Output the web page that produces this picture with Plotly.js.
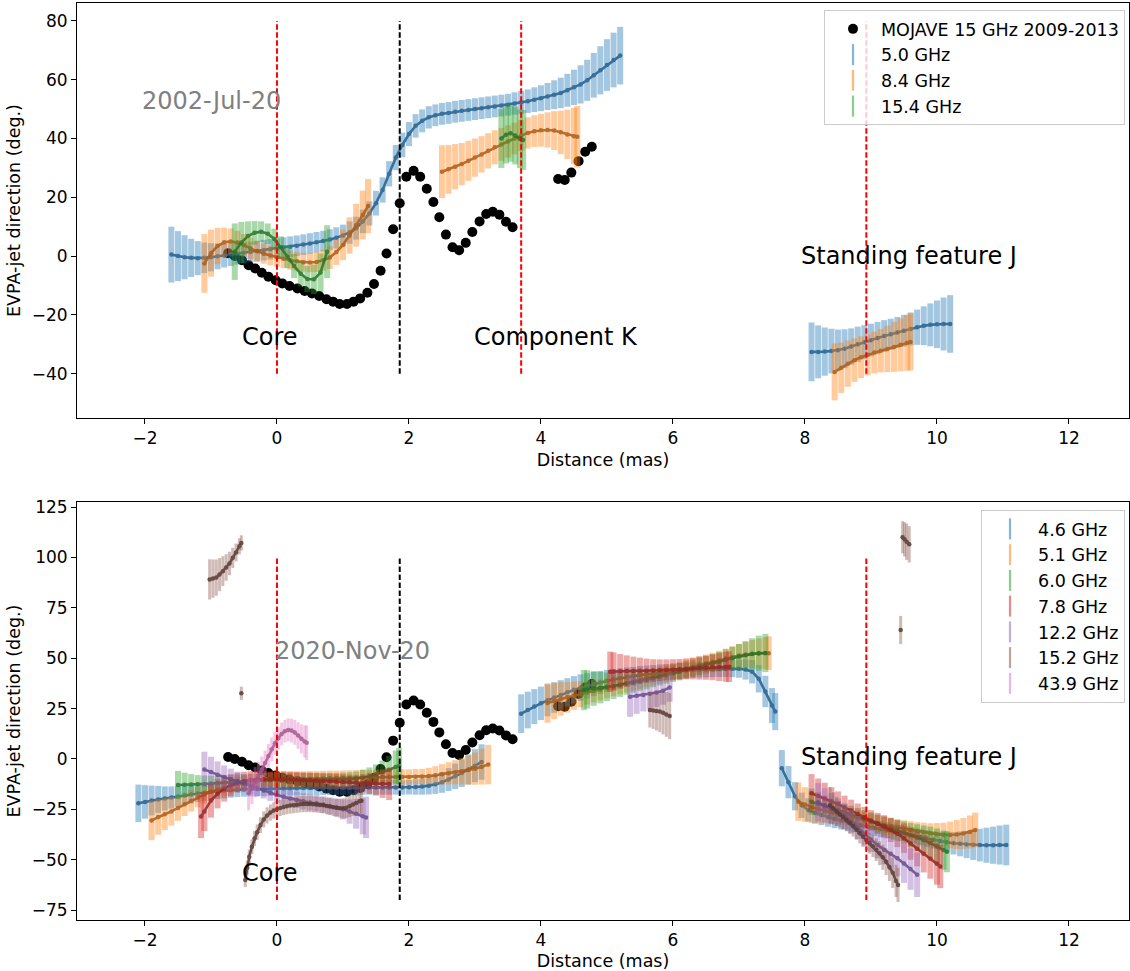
<!DOCTYPE html>
<html>
<head>
<meta charset="utf-8">
<script src="https://cdn.plot.ly/plotly-3.0.1.min.js"></script>
<style>
  html, body { margin: 0; padding: 0; background: #ffffff; }
  #chart { width: 1130px; height: 971px; }
</style>
</head>
<body>
<div id="chart"></div>
<script>
// ---------------- MOJAVE 15 GHz profile (2009-2013 stack) ----------------
const mojaveX = [-0.74,-0.64,-0.53,-0.43,-0.33,-0.23,-0.13,-0.02,0.08,0.19,0.31,0.42,0.53,0.64,0.75,0.85,0.95,
  1.06,1.16,1.26,1.37,1.47,1.57,1.66,1.76,1.86,1.96,2.07,2.17,2.27,2.37,2.46,2.56,2.66,2.76,
  2.86,2.96,3.07,3.17,3.27,3.37,3.47,3.57,4.26,4.36,4.46,4.57,4.67,4.77];
const mojaveY = [1.0,0.0,-1.4,-3.1,-4.2,-5.7,-7.0,-8.2,-9.3,-10.2,-11.0,-11.9,-12.7,-13.6,-14.7,-15.5,-16.3,
  -16.3,-15.5,-14.4,-12.5,-9.5,-5.0,0.9,9.1,18.0,27.0,29.0,27.0,22.9,18.4,13.2,7.3,3.0,2.0,
  4.5,8.2,11.8,14.3,15.1,14.1,11.7,9.8,26.2,25.9,28.4,32.3,35.5,37.2];

// ---------------- 2002-Jul-20 ----------------
const t50x = [-1.6,-1.5,-1.4,-1.3,-1.2,-1.1,-1.0,-0.9,-0.8,-0.7,-0.6,-0.5,-0.4,-0.3,-0.2,-0.1,0.0,0.1,0.2,0.3,0.4,0.5,0.6,0.7,0.8,0.9,
  1.0,1.1,1.2,1.3,1.4,1.5,1.6,1.7,1.8,1.9,2.0,2.1,2.2,2.3,2.4,2.5,2.6,2.7,2.8,2.9,3.0,3.1,3.2,3.3,3.4,3.5,3.6,3.7,3.8,3.9,
  4.0,4.1,4.2,4.3,4.4,4.5,4.6,4.7,4.8,4.9,5.0,5.1,5.2, null,
  8.1,8.2,8.3,8.4,8.5,8.6,8.7,8.8,8.9,9.0,9.1,9.2,9.3,9.4,9.5,9.6,9.7,9.8,9.9,10.0,10.1,10.2];
const t50y = [0.5,0.0,-0.4,-0.6,-0.7,-0.6,-0.4,-0.1,0.2,0.5,0.8,1.1,1.4,1.7,2.0,2.3,2.6,2.9,3.2,3.5,3.9,4.3,4.7,5.1,5.6,6.2,
  7.0,8.0,9.5,11.8,14.5,18.0,22.5,28.0,33.5,37.8,41.5,44.3,46.0,47.2,47.9,48.4,48.7,49.1,49.4,49.7,50.0,50.3,50.6,50.9,51.2,51.5,51.9,52.3,52.7,53.2,
  53.7,54.3,54.9,55.5,56.4,57.4,58.4,59.8,61.5,63.2,65.0,66.7,68.2, null,
  -32.6,-32.6,-32.5,-32.3,-32.0,-31.5,-30.8,-30.0,-29.3,-28.6,-27.9,-27.2,-26.6,-26.0,-25.4,-24.8,-24.2,-23.7,-23.4,-23.2,-23.1,-23.1];
const t50e = [9.5,8.5,7.5,6.5,5.8,5.2,4.8,4.4,4.1,3.9,3.7,3.6,3.5,3.5,3.5,3.5,3.5,3.5,3.5,3.5,3.5,3.5,3.5,3.5,3.5,3.6,
  3.7,3.8,3.9,4.0,4.1,4.2,4.3,4.3,4.3,4.2,4.1,4.0,3.9,3.8,3.7,3.7,3.7,3.7,3.7,3.7,3.7,3.7,3.7,3.7,3.7,3.7,3.8,3.9,4.0,4.2,
  4.4,4.6,4.9,5.2,5.6,6.0,6.5,7.0,7.6,8.2,8.8,9.3,9.8, null,
  10.0,9.0,8.2,7.6,7.0,6.6,6.2,6.0,5.8,5.6,5.5,5.4,5.3,5.3,5.4,5.6,6.0,6.6,7.3,8.1,9.0,9.8];

const t84x = [-1.1,-1.0,-0.9,-0.8,-0.7,-0.6,-0.5,-0.4,-0.3,-0.2,-0.1,0.0,0.1,0.2,0.3,0.4,0.5,0.6,0.7,0.8,0.9,1.0,1.1,1.2,1.3,1.38, null,
  2.5,2.6,2.7,2.8,2.9,3.0,3.1,3.2,3.3,3.4,3.5,3.6,3.7,3.8,3.9,4.0,4.1,4.2,4.3,4.4,4.5,4.55, null,
  8.45,8.55,8.65,8.75,8.85,8.95,9.05,9.15,9.25,9.35,9.45,9.55,9.6];
const t84y = [-2.5,1.0,3.4,4.7,5.0,4.6,3.7,2.6,1.6,0.8,0.2,-0.4,-0.9,-1.4,-1.8,-2.1,-2.2,-2.0,-1.4,-0.5,1.4,3.8,7.0,10.5,14.0,17.0, null,
  28.7,29.5,30.4,31.3,32.4,33.5,34.6,35.8,37.0,38.0,39.0,40.0,41.0,41.9,42.5,42.8,42.9,42.7,42.1,41.4,40.8,40.6, null,
  -39.4,-38.0,-36.6,-35.4,-34.4,-33.6,-32.8,-32.2,-31.6,-30.9,-30.2,-29.5,-29.2];
const t84e = [10.0,8.0,6.2,5.0,4.4,4.0,3.8,3.6,3.5,3.4,3.3,3.2,3.2,3.2,3.2,3.2,3.3,3.4,3.6,3.9,4.4,5.2,6.2,7.3,8.3,9.2, null,
  9.0,8.3,7.7,7.2,6.8,6.5,6.2,6.0,5.8,5.6,5.5,5.4,5.3,5.3,5.4,5.6,6.0,6.6,7.4,8.4,9.6,10.5, null,
  9.7,8.6,7.9,7.4,7.1,7.0,7.1,7.4,7.9,8.5,9.0,9.5,9.7];

const t154x = [-0.64,-0.54,-0.44,-0.34,-0.24,-0.14,-0.04,0.06,0.16,0.26,0.36,0.46,0.56,0.66,0.76, null,
  3.40,3.47,3.54,3.61,3.68,3.73];
const t154y = [1.5,4.6,6.8,7.9,8.3,7.6,5.8,3.0,-0.2,-3.4,-6.0,-7.8,-7.9,-5.6,1.5, null,
  40.0,41.3,41.8,41.0,39.9,39.5];
const t154e = [9.6,7.0,5.0,4.0,3.5,3.5,3.5,3.7,3.9,4.1,4.3,4.5,5.0,6.5,9.0, null,
  10.0,9.8,9.7,9.8,10.0,10.2];

// ---------------- 2020-Nov-20 ----------------
const b46x = [-2.1,-2.0,-1.9,-1.8,-1.7,-1.6,-1.5,-1.4,-1.3,-1.2,-1.1,-1.0,-0.9,-0.8,-0.7,-0.6,-0.5,-0.4,-0.3,-0.2,-0.1,
  0.0,0.1,0.2,0.3,0.4,0.5,0.6,0.7,0.8,0.9,1.0,1.1,1.2,1.3,1.4,1.5,1.6,1.7,1.8,1.9,2.0,2.1,2.2,2.3,2.4,2.5,2.6,2.7,2.8,2.9,3.0,3.1, null,
  3.7,3.8,3.9,4.0,4.1,4.2,4.3,4.4,4.5,4.6,4.7,4.8,4.9,5.0,5.1,5.2,5.3,5.4,5.5,5.6,5.7,5.8,5.9,
  6.0,6.1,6.2,6.3,6.4,6.5,6.6,6.7,6.8,6.9,7.0,7.1,7.2,7.3,7.4,7.5,7.55, null,
  7.65,7.75,7.85,7.95,8.05,8.15,8.25,8.35,8.45,8.55,8.65,8.75,8.85,8.95,9.05,9.15,9.25,9.35,9.45,9.55,9.65,9.75,9.85,9.95,
  10.05,10.15,10.25,10.35,10.45,10.55,10.65,10.75,10.85,10.95,11.05];
const b46y = [-22.0,-21.3,-20.6,-20.1,-19.6,-19.1,-18.6,-18.1,-17.6,-17.1,-16.7,-16.3,-16.0,-15.7,-15.5,-15.3,-15.1,-15.0,-14.9,-14.8,-14.7,
  -14.6,-14.6,-14.5,-14.5,-14.4,-14.4,-14.4,-14.3,-14.3,-14.3,-14.3,-14.2,-14.2,-14.2,-14.1,-14.1,-14.1,-14.1,-14.1,-14.1,-14.0,-13.9,-13.7,-13.3,-12.6,-11.6,-10.2,-8.6,-7.0,-5.2,-3.3,-1.5, null,
  22.5,24.3,26.0,27.6,29.1,30.5,31.8,33.1,34.3,35.4,36.3,37.2,38.0,38.7,39.4,40.0,40.6,41.1,41.6,42.0,42.4,42.8,43.1,
  43.4,43.7,43.9,44.1,44.3,44.4,44.5,44.6,44.7,44.8,44.8,44.4,43.3,39.8,33.5,26.5,23.5, null,
  -4.6,-11.5,-18.5,-23.0,-25.3,-26.8,-27.9,-28.9,-29.8,-30.7,-31.5,-32.2,-32.9,-33.6,-34.2,-34.8,-35.4,-36.1,-36.7,-37.3,-38.0,-38.7,-39.4,-40.1,
  -40.7,-41.3,-41.8,-42.1,-42.4,-42.6,-42.7,-42.8,-42.8,-42.7,-42.7];
const b46e = [9.3,8.3,7.4,6.7,6.0,5.5,5.1,4.8,4.5,4.3,4.1,4.0,3.9,3.8,3.7,3.6,3.6,3.6,3.6,3.6,3.6,
  3.6,3.6,3.6,3.6,3.6,3.6,3.6,3.6,3.6,3.6,3.6,3.6,3.6,3.6,3.6,3.6,3.6,3.6,3.6,3.6,3.6,3.8,4.0,4.3,4.7,5.2,5.7,6.3,6.9,7.5,8.2,8.8, null,
  9.6,9.1,8.7,8.3,7.9,7.6,7.3,7.0,6.8,6.6,6.3,6.0,5.7,5.5,5.2,5.0,4.8,4.6,4.5,4.3,4.2,4.1,4.0,
  3.9,3.9,3.9,3.9,3.9,3.9,3.9,3.9,4.0,4.2,4.5,5.0,5.8,6.8,7.8,8.7,9.2, null,
  9.0,8.0,7.0,6.3,5.8,5.3,4.9,4.7,4.5,4.3,4.1,4.0,4.0,4.0,4.0,4.0,4.0,4.0,4.0,4.0,4.0,4.1,4.2,4.3,
  4.6,5.0,5.6,6.2,6.8,7.5,8.1,8.7,9.2,9.7,10.1];

const b51x = [-1.9,-1.8,-1.7,-1.6,-1.5,-1.4,-1.3,-1.2,-1.1,-1.0,-0.9,-0.8,-0.7,-0.6,-0.5,-0.4,-0.3,-0.2,-0.1,
  0.0,0.1,0.2,0.3,0.4,0.5,0.6,0.7,0.8,0.9,1.0,1.1,1.2,1.3,1.4,1.5,1.6,1.7,1.8,1.9,2.0,2.1,2.2,2.3,2.4,2.5,2.6,2.7,2.8,2.9,3.0,3.1,3.2, null,
  4.1,4.2,4.3,4.4,4.5,4.6,4.7,4.8,4.9,5.0,5.1,5.2,5.3,5.4,5.5,5.6,5.7,5.8,5.9,6.0,6.1,6.2,6.3,6.4,6.5,6.6,6.7,6.8,6.9,7.0,7.1,7.2,7.3,7.4,7.45, null,
  7.9,8.0,8.1,8.2,8.3,8.4,8.5,8.6,8.7,8.8,8.9,9.0,9.1,9.2,9.3,9.4,9.5,9.6,9.7,9.8,9.9,10.0,10.1,10.2,10.3,10.4,10.5,10.58];
const b51y = [-30.5,-28.8,-27.4,-26.0,-24.3,-22.5,-20.7,-19.1,-17.6,-16.3,-15.2,-14.2,-13.3,-12.6,-12.0,-11.3,-10.9,-10.6,-10.3,
  -10.1,-10.0,-10.0,-9.9,-9.9,-9.8,-9.8,-9.7,-9.6,-9.6,-9.5,-9.4,-9.3,-9.2,-9.2,-9.1,-9.0,-9.0,-8.9,-8.9,-8.9,-8.8,-8.7,-8.5,-8.1,-7.6,-7.1,-6.6,-6.1,-5.5,-4.8,-3.8,-2.8, null,
  27.8,28.8,29.8,30.6,31.4,32.2,33.0,33.7,34.4,35.2,35.9,36.7,37.5,38.3,39.1,40.0,40.8,41.6,42.4,43.2,44.0,44.9,45.7,46.6,47.4,48.2,49.0,49.8,50.6,51.3,51.8,52.2,52.4,52.5,52.5, null,
  -21.2,-22.6,-23.9,-24.8,-25.6,-26.3,-27.1,-27.9,-28.7,-29.5,-30.4,-31.2,-32.0,-32.7,-33.4,-34.0,-34.6,-35.2,-35.8,-36.3,-36.9,-37.3,-37.6,-37.7,-37.5,-37.0,-36.2,-35.2];
const b51e = [9.8,8.8,7.9,7.1,6.4,5.8,5.3,4.9,4.6,4.3,4.1,4.0,3.9,3.8,3.8,3.8,3.8,3.8,3.8,
  3.8,3.8,3.8,3.8,3.8,3.8,3.8,3.8,3.8,3.8,3.8,3.8,3.8,3.8,3.8,3.8,3.8,3.8,3.8,3.8,3.8,3.8,3.8,4.1,4.5,5.0,5.5,6.0,6.6,7.2,8.0,8.9,9.8, null,
  9.8,9.0,8.3,7.6,7.0,6.5,6.0,5.6,5.3,5.0,4.8,4.6,4.5,4.4,4.3,4.3,4.3,4.3,4.3,4.3,4.3,4.3,4.3,4.4,4.4,4.5,4.7,5.0,5.3,5.7,6.2,6.8,7.4,8.0,8.4, null,
  9.5,8.6,7.8,7.0,6.3,5.7,5.2,4.8,4.5,4.3,4.2,4.2,4.2,4.2,4.2,4.2,4.2,4.3,4.4,4.7,5.0,5.5,6.0,6.6,7.2,7.7,8.2,8.6];

const b60x = [-1.5,-1.4,-1.3,-1.2,-1.1,-1.0,-0.9,-0.8,-0.7,-0.6,-0.5,-0.4,-0.3,-0.2,-0.1,0.0,
  0.1,0.2,0.3,0.4,0.5,0.6,0.7,0.8,0.9,1.0,1.1,1.2,1.3,1.4,1.5,1.6,1.7,1.8,1.85, null,
  4.65,4.7,4.8,4.9,5.0,5.1,5.2,5.3,5.4,5.5,5.6,5.7,5.8,5.9,6.0,6.1,6.2,6.3,6.4,6.5,6.6,6.7,6.8,6.9,7.0,7.1,7.2,7.3,7.4, null,
  8.1,8.2,8.3,8.4,8.5,8.6,8.7,8.8,8.9,9.0,9.1,9.2,9.3,9.4,9.5,9.6,9.7,9.8,9.9,10.0,10.1,10.15];
const b60y = [-12.9,-12.8,-12.7,-12.6,-12.4,-12.2,-11.9,-11.7,-11.4,-11.2,-11.0,-10.8,-10.7,-10.6,-10.5,-10.4,
  -10.4,-10.4,-10.4,-10.4,-10.4,-10.4,-10.4,-10.4,-10.4,-10.3,-10.1,-9.8,-9.3,-8.6,-7.7,-6.6,-5.3,-4.0,-3.5, null,
  34.2,34.5,35.0,35.4,35.8,36.2,36.8,37.4,38.0,38.6,39.2,40.0,40.8,41.6,42.5,43.3,44.2,45.0,45.9,46.7,47.5,48.3,49.2,50.0,50.8,51.5,52.1,52.5,52.6, null,
  -21.2,-22.3,-23.4,-24.4,-25.3,-26.3,-27.4,-28.5,-29.7,-30.9,-32.1,-33.3,-34.4,-35.5,-36.6,-37.8,-39.0,-40.3,-41.7,-43.4,-45.2,-46.0];
const b60e = [7.0,6.0,5.2,4.6,4.2,3.9,3.7,3.6,3.5,3.5,3.5,3.5,3.5,3.5,3.5,3.5,
  3.5,3.5,3.5,3.5,3.5,3.5,3.5,3.5,3.5,3.5,3.5,3.5,4.0,4.4,5.0,5.8,6.8,8.2,9.0, null,
  10.0,9.5,8.6,7.8,7.1,6.5,6.0,5.5,5.1,4.8,4.6,4.4,4.3,4.3,4.3,4.3,4.3,4.3,4.3,4.3,4.5,4.8,5.2,5.7,6.3,7.0,7.8,8.7,9.5, null,
  6.5,5.8,5.2,4.8,4.5,4.3,4.2,4.2,4.3,4.4,4.5,4.7,4.9,5.2,5.6,6.0,6.6,7.3,8.1,8.9,9.7,10.2];

const b78x = [-1.15,-1.1,-1.0,-0.9,-0.8,-0.7,-0.6,-0.5,-0.4,-0.3,-0.2,-0.1,0.0,0.1,0.2,0.3,0.4,0.5,0.6,0.7,0.8,0.9,1.0,1.1,1.2,1.3,1.4,1.5,1.6,1.7, null,
  5.05,5.1,5.2,5.3,5.4,5.5,5.6,5.7,5.8,5.9,6.0,6.1,6.2,6.3,6.4,6.5,6.6,6.7,6.8,6.85, null,
  8.1,8.2,8.3,8.4,8.5,8.6,8.7,8.8,8.9,9.0,9.1,9.2,9.3,9.4,9.5,9.6,9.7,9.8,9.9,10.0,10.05];
const b78y = [-28.6,-26.0,-20.6,-17.2,-14.8,-13.0,-11.8,-10.9,-10.3,-10.0,-9.9,-9.9,-9.9,-10.0,-10.1,-10.3,-10.5,-10.6,-10.8,-11.0,-11.1,-11.3,-11.4,-11.6,-11.8,-12.0,-12.1,-12.2,-12.3,-12.4, null,
  43.3,43.4,43.5,43.6,43.7,43.8,43.8,43.9,44.0,44.2,44.4,44.5,44.7,44.9,45.1,45.3,45.5,45.6,45.7,45.8, null,
  -17.0,-18.3,-19.6,-21.0,-22.4,-24.0,-25.6,-27.3,-28.9,-30.5,-32.0,-33.5,-35.2,-37.1,-39.3,-42.0,-44.6,-47.0,-49.5,-52.0,-53.4];
const b78e = [10.7,9.8,8.5,7.3,6.3,5.5,4.9,4.5,4.2,4.0,3.9,3.8,3.8,3.8,3.8,3.8,3.8,3.8,3.8,3.8,3.8,3.8,3.8,3.8,3.8,4.5,5.2,6.0,7.0,8.0, null,
  10.0,9.5,8.6,7.8,7.1,6.5,6.0,5.6,5.4,5.2,5.1,5.1,5.2,5.4,5.7,6.0,6.4,6.9,7.4,7.6, null,
  9.5,8.6,7.8,7.0,6.3,5.8,5.4,5.2,5.1,5.1,5.3,5.6,6.0,6.6,7.3,8.0,8.7,9.3,9.9,10.4,10.7];

const b122x = [-1.1,-1.0,-0.9,-0.8,-0.7,-0.6,-0.5,-0.4,-0.3,-0.2,-0.1,0.0,0.1,0.2,0.3,0.4,0.5,0.6,0.7,0.8,0.9,1.0,1.1,1.2,1.3,1.35, null,
  5.35,5.45,5.55,5.65,5.75,5.85,5.95, null,
  8.2,8.3,8.4,8.5,8.6,8.7,8.8,8.9,9.0,9.1,9.2,9.3,9.4,9.5,9.6,9.7];
const b122y = [-5.2,-6.5,-7.8,-9.0,-10.0,-11.0,-12.1,-13.3,-14.4,-15.6,-16.8,-17.9,-18.8,-19.6,-20.3,-21.0,-21.6,-22.0,-22.6,-23.3,-24.1,-25.0,-26.1,-27.2,-28.4,-29.0, null,
  30.9,31.4,31.8,32.4,33.0,33.9,35.5, null,
  -21.5,-23.0,-24.6,-26.4,-28.6,-31.1,-34.0,-37.1,-40.0,-42.7,-45.0,-47.0,-49.3,-51.9,-54.6,-57.5];
const b122e = [8.8,7.6,6.6,5.8,5.2,4.7,4.4,4.2,4.1,4.0,4.0,4.0,4.0,4.0,4.0,4.0,4.0,4.0,4.1,4.2,4.4,5.0,6.0,7.4,9.0,10.3, null,
  10.0,9.0,8.2,7.6,7.2,7.0,7.1, null,
  9.5,8.5,7.6,6.8,6.2,5.8,5.7,5.8,6.1,6.6,7.3,8.1,8.9,9.6,10.3,11.0];

const b152x = [-1.02,-0.97,-0.92,-0.87,-0.82,-0.77,-0.72,-0.67,-0.62,-0.57,-0.54, null,
  -0.54, null,
  -0.48,-0.45,-0.42,-0.38,-0.34,-0.30,-0.25,-0.20,-0.15,-0.10,-0.05,0.00,0.05,0.10,0.15,0.20,0.25,0.30,0.35,0.40,
  0.45,0.50,0.55,0.60,0.65,0.70,0.75,0.80,0.85,0.90,0.95,1.00,1.05,1.10,1.15,1.20,1.25,1.28, null,
  5.65,5.70,5.75,5.80,5.85,5.90,5.95, null,
  8.38,8.43,8.48,8.53,8.58,8.63,8.68,8.73,8.78,8.83,8.88,8.93,8.98,9.03,9.08,9.13,9.18,9.23,9.28,9.33,9.38,9.41, null,
  9.45, null,
  9.48,9.51,9.54,9.58];
const b152y = [89.1,89.5,90.0,91.5,93.2,95.0,97.0,99.8,102.5,105.5,107.2, null,
  32.6, null,
  -60.0,-54.0,-48.5,-43.5,-39.5,-36.3,-32.8,-30.0,-28.0,-26.6,-25.6,-24.9,-24.3,-23.8,-23.4,-23.1,-22.9,-22.7,-22.5,-22.4,
  -22.4,-22.4,-22.5,-22.6,-22.8,-23.0,-23.3,-23.6,-23.9,-24.2,-24.4,-24.5,-24.2,-23.4,-22.6,-21.8,-21.0,-20.7, null,
  24.3,24.1,23.8,23.5,22.9,22.1,21.3, null,
  -23.0,-24.5,-26.0,-27.5,-28.9,-30.3,-31.8,-33.4,-35.1,-36.9,-38.6,-40.2,-41.8,-43.3,-45.0,-46.8,-48.8,-51.0,-53.6,-56.5,-60.5,-62.5, null,
  64.0, null,
  110.0,109.0,107.8,106.5];
const b152e = [10.0,9.5,9.0,8.2,7.4,6.6,5.8,5.0,4.4,4.0,3.8, null,
  3.3, null,
  3.5,3.5,3.5,3.6,3.7,3.8,3.9,4.0,4.0,4.0,4.0,4.0,4.0,4.0,4.0,4.0,4.0,4.0,4.0,4.0,
  4.0,4.0,4.0,4.0,4.0,4.0,4.1,4.2,4.3,4.5,4.7,5.0,5.2,5.5,5.7,6.0,6.3,6.5, null,
  8.7,9.2,9.7,10.2,10.7,11.1,11.5, null,
  9.0,8.0,7.2,6.5,6.0,5.6,5.3,5.1,5.0,5.0,5.0,5.1,5.2,5.4,5.6,5.9,6.2,6.6,7.0,7.5,8.0,8.5, null,
  7.0, null,
  8.0,8.5,9.0,9.0];

const b439x = [-0.43,-0.38,-0.33,-0.28,-0.23,-0.18,-0.13,-0.08,-0.03,0.02,0.07,0.12,0.17,0.22,0.27,0.32,0.37,0.42,0.45];
const b439y = [-17.0,-14.3,-11.5,-8.6,-5.3,-2.0,1.5,4.8,7.8,10.3,12.4,13.8,14.4,14.1,13.2,11.6,10.0,8.7,8.1];
const b439e = [8.5,8.0,7.5,7.0,6.6,6.2,6.0,5.8,5.7,5.6,5.6,5.6,5.7,5.9,6.2,6.6,7.2,8.0,8.6];

// Reference positions (mas) and vertical extents (deg.) of the dashed guides
const redLinesTop = [0, 3.7, 8.93];
const redLinesBottom = [0, 8.93];
const jetBendX = 1.86;
const guideSpanTop = [-40, 80];
const guideSpanBottom = [-70, 100];

// ---------------- drawing ----------------
const RGB = {
  blue: '31,119,180', orange: '255,127,14', green: '44,160,44', red: '214,39,40',
  purple: '148,103,189', brown: '140,86,75', pink: '227,119,194'
};
const DARK = {
  blue: '#24608f', orange: '#b35d14', green: '#27772a', red: '#9c2323',
  purple: '#6b4c8e', brown: '#5a3a33', pink: '#a85b92'
};

function profile(x, y, e, c, xa, ya, thick) {
  return {
    type: 'scatter', mode: 'lines+markers', x: x, y: y, xaxis: xa, yaxis: ya,
    showlegend: false, hoverinfo: 'skip', connectgaps: false,
    line: { color: DARK[c], width: 2.6 },
    marker: { color: DARK[c], size: 4.5 },
    opacity: 0.9,
    error_y: { type: 'data', array: e, visible: true, width: 0, thickness: thick,
               color: 'rgba(' + RGB[c] + ',0.45)' }
  };
}
function key(name, c, legend) {
  return {
    type: 'scatter', mode: 'markers', x: [null], y: [null], name: name, legend: legend,
    xaxis: legend === 'legend' ? 'x' : 'x2', yaxis: legend === 'legend' ? 'y' : 'y2',
    marker: { symbol: 'line-ns', size: 15, line: { width: 2.2, color: 'rgba(' + RGB[c] + ',0.55)' } },
    hoverinfo: 'skip'
  };
}
function mojave(xa, ya, show) {
  return {
    type: 'scatter', mode: 'markers', x: mojaveX, y: mojaveY, xaxis: xa, yaxis: ya,
    name: 'MOJAVE 15 GHz 2009-2013', showlegend: show, legend: 'legend',
    marker: { color: 'black', size: 10 }, hoverinfo: 'skip'
  };
}

const W = 6.0, W2 = 3.0;
const data = [
  mojave('x', 'y', true),
  profile(t50x, t50y, t50e, 'blue', 'x', 'y', W),
  profile(t84x, t84y, t84e, 'orange', 'x', 'y', W),
  profile(t154x, t154y, t154e, 'green', 'x', 'y', W),
  key('5.0 GHz', 'blue', 'legend'),
  key('8.4 GHz', 'orange', 'legend'),
  key('15.4 GHz', 'green', 'legend'),

  mojave('x2', 'y2', false),
  profile(b46x, b46y, b46e, 'blue', 'x2', 'y2', W),
  profile(b51x, b51y, b51e, 'orange', 'x2', 'y2', W),
  profile(b60x, b60y, b60e, 'green', 'x2', 'y2', W),
  profile(b78x, b78y, b78e, 'red', 'x2', 'y2', W),
  profile(b122x, b122y, b122e, 'purple', 'x2', 'y2', W),
  profile(b152x, b152y, b152e, 'brown', 'x2', 'y2', W2),
  profile(b439x, b439y, b439e, 'pink', 'x2', 'y2', W2),
  key('4.6 GHz', 'blue', 'legend2'),
  key('5.1 GHz', 'orange', 'legend2'),
  key('6.0 GHz', 'green', 'legend2'),
  key('7.8 GHz', 'red', 'legend2'),
  key('12.2 GHz', 'purple', 'legend2'),
  key('15.2 GHz', 'brown', 'legend2'),
  key('43.9 GHz', 'pink', 'legend2')
];

const FONT = 'DejaVu Sans, Verdana, sans-serif';
const axisBase = {
  showline: true, mirror: true, linecolor: 'black', linewidth: 1,
  ticks: 'outside', ticklen: 5, tickwidth: 1, tickcolor: 'black',
  showgrid: false, zeroline: false, tickfont: { size: 17, family: FONT, color: 'black' }
};
const xTicks = [-2, 0, 2, 4, 6, 8, 10, 12];
const xRange = [-3.03, 12.91];

function guide(x, span, color, xr, yr) {
  return { type: 'line', xref: xr, yref: yr, x0: x, x1: x, y0: span[0], y1: span[1],
           layer: 'above', line: { color: color, width: 2, dash: '5.5px,2.5px' } };
}
const shapes = [];
redLinesTop.forEach(v => shapes.push(guide(v, guideSpanTop, 'red', 'x', 'y')));
shapes.push(guide(jetBendX, guideSpanTop, 'black', 'x', 'y'));
redLinesBottom.forEach(v => shapes.push(guide(v, guideSpanBottom, 'red', 'x2', 'y2')));
shapes.push(guide(jetBendX, guideSpanBottom, 'black', 'x2', 'y2'));

function label(text, x, y, xr, yr, color) {
  return { text: text, x: x, y: y, xref: xr, yref: yr, showarrow: false,
           xanchor: 'center', yanchor: 'middle',
           font: { size: 24, family: FONT, color: color || 'black' } };
}
const annotations = [
  label('2002-Jul-20', -0.99, 52.8, 'x', 'y', '#808080'),
  label('Core', -0.11, -27.6, 'x', 'y'),
  label('Component K', 4.23, -27.6, 'x', 'y'),
  label('Standing feature J', 9.57, 0.0, 'x', 'y'),
  label('2020-Nov-20', 1.14, 53.6, 'x2', 'y2', '#808080'),
  label('Core', -0.11, -56.5, 'x2', 'y2'),
  label('Standing feature J', 9.57, 1.0, 'x2', 'y2')
];

const legendBase = {
  xanchor: 'right', yanchor: 'top', bgcolor: 'rgba(255,255,255,0.8)',
  bordercolor: '#cccccc', borderwidth: 1, itemwidth: 46,
  font: { size: 17.5, family: FONT, color: 'black' }
};

const layout = {
  width: 1130, height: 971,
  margin: { l: 77, r: 1, t: 3, b: 51 },
  paper_bgcolor: 'white', plot_bgcolor: 'white',
  font: { family: FONT, size: 17, color: 'black' },
  xaxis: Object.assign({}, axisBase, { domain: [0, 1], anchor: 'y', range: xRange, tickvals: xTicks,
    title: { text: 'Distance (mas)', standoff: 6, font: { size: 17.5, family: FONT } } }),
  yaxis: Object.assign({}, axisBase, { domain: [0.5474, 1], anchor: 'x', range: [-55.1, 86.1],
    tickvals: [-40, -20, 0, 20, 40, 60, 80],
    title: { text: 'EVPA-jet direction (deg.)', standoff: 6, font: { size: 17.5, family: FONT } } }),
  xaxis2: Object.assign({}, axisBase, { domain: [0, 1], anchor: 'y2', range: xRange, tickvals: xTicks,
    title: { text: 'Distance (mas)', standoff: 6, font: { size: 17.5, family: FONT } } }),
  yaxis2: Object.assign({}, axisBase, { domain: [0, 0.4558], anchor: 'x2', range: [-79.9, 127.5],
    tickvals: [-75, -50, -25, 0, 25, 50, 75, 100, 125],
    title: { text: 'EVPA-jet direction (deg.)', standoff: 6, font: { size: 17.5, family: FONT } } }),
  legend: Object.assign({}, legendBase, { x: 0.9962, y: 0.9924 }),
  legend2: Object.assign({}, legendBase, { x: 0.9962, y: 0.4471 }),
  shapes: shapes,
  annotations: annotations
};

Plotly.newPlot('chart', data, layout, { displayModeBar: false, staticPlot: true });
</script>
</body>
</html>
